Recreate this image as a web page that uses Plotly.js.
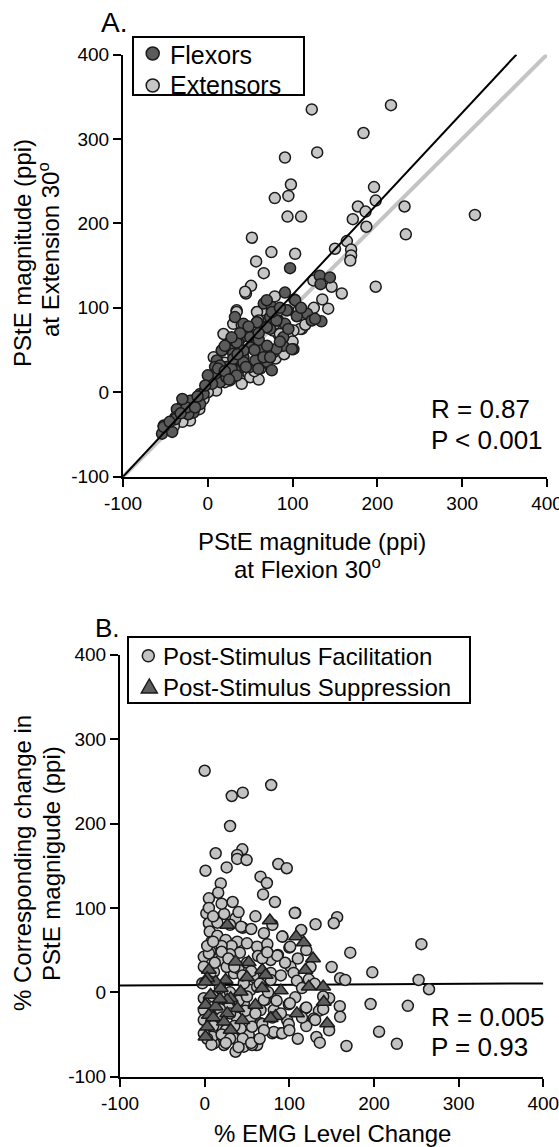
<!DOCTYPE html>
<html>
<head>
<meta charset="utf-8">
<script src="https://cdn.plot.ly/plotly-3.0.1.min.js"></script>
<style>html,body{margin:0;padding:0;background:#fff;}#chart{width:559px;height:1147px;}</style>
</head>
<body>
<div id="chart"></div>
<script>
// ---------- Panel A data ----------
const flexX = [97,132,144,133,91,102,66,75.5,94,117,122.6,134,32,58,71.5,83,91,73.5,46,40,50,26,36,58,64,77,89,101,70,75.5,16.5,30,42,50,40,10.6,8.6,22,32,12.5,22,14.5,-9,-19,-29,-17,-36.5,-38.5,-52,-54,-42,-23,-9,-5,69.5,73.5,67.5,81,99,3,14.5,30,64,42,58,75.5,93,103,126.5,69.5,63.7,50,42,34,16.5,14.5,28,42,30,8.6,22,34,56,65.6,81,89,73.5,59.7,-38.5,-52,-21,5,12,20,25,35,45,55,60,70,85,95,105,110,85,60,48,38,28,20,0,-3,-12,-25,-32,-45,-30,-15];
const flexY = [147,138,136,128,118,110,105,101,97,93,85,84,89,83,85,85,81,75,73,65,65,59,59,59,51,47,55,51,36,26,49.5,49.5,41.5,30,30,37.6,30,30,26,20,18,12,-2,-10,-14,-24,-20,-30,-39.5,-49,-47,-26,-14,-2,109,89,77,85,51,14,28,45.5,53,81,83,95,97,109,87,77,51,53,49.5,59,49.5,31.7,27.7,35.6,39.6,21.8,17.8,19.8,37.6,41.5,51.5,65,41.5,27.7,-32,-41,-10,10,28,25,15,45,30,50,62,55,60,75,90,100,100,70,78,70,65,55,20,8,-5,-18,-25,-35,-8,-18];
const extX = [122.6,216,183.6,129,91,98,79,95,94,110,196,198,177,186,171,187,232,315,233.5,52,75,103,57,66,150,164,169,169,198,51,124.5,146,158,168,45,79,64,84,107,142,111,34,83,93,18.5,62,26,38,50,6.6,-25,-21,-9,44,34,7,6.6,52,48,77,109,30,85,79,101,95,50,58,-2,10,20,28,40,60,15,25,40,55,65,80,90,100,115,125,135,60,40,20,-10,-30,-40,0,-5];
const extY = [335,340,307,284,278,246,230,232.5,208,208,243,227,220,214,205,196,220,210,187,183,166,164,155,141,170,179,169,162,125,126,132.5,125,117,156,117,113.5,97,97,97,99,75,97,69,69,69,28,14,20,20,8,-28,-33.5,-10,119,95,41.5,10,30,22,73,75,81,69,81,73,65,17.8,95,5,2,12,36,10,15,20,30,40,25,35,40,45,60,80,100,110,85,80,35,-20,-35,-40,0,-8];
const fitAX = [-100, 364];
const fitAY = [-100, 400];
const unityX = [-100, 400];
const unityY = [-100, 400];

// ---------- Panel B data ----------
const facX = [0,32,45,78.6,30,13,44.5,38.5,38.5,49.5,1,26,19,16,5,33,66,73.5,69,83,87,97,2,23,36.5,107,156.5,152.5,131,5,15,45,6,15,24.8,38.5,31.8,50,62,74,92,100,114,7,-1,5,19,41.6,63,74.7,86.5,101.4,78,105,109,160,166,172,198,256,252.7,265,196,240,206,227,167.5,147,159.6,160,147,135,129,132,136,119,99.4,97.5,99.4,90,80,66,54,78,72,62,46.3,36.5,22.8,11,34.6,52,42.5,66,46.3,54,56,15,9,62,78,34.6,46.3,78,68,-2.7,-1,11,22.8,-1,-1,-1,-1,101,91.6,106.5,123,66,107,100.6,70,81.7,56,120,130.5,81.7,68,91.6,85.7,74,43,8,20,30,12,26,40,50,18,30,5,15,28,38,48,25,12,58,8,20,35,3,10,20,28,35,45,55,65,75,85,90,95,110,120,125,115,130,140,150,10,18,30,40,50,60,70,80,90,100,110,120,10,20,30,45,55,3,8,25,65,40,115,140,5,10,30,55,60,70,80,40,20];
const facY = [262.5,232.6,236.5,245.6,197,164.7,169.4,162.7,158,156.8,144,148,129,118,111.3,107,137,129.5,116,107,152,147,93.6,92.8,87.7,94.3,89,81.8,80.6,81.8,82.5,76.5,72,67,62,60,54.9,58,54,57,66,53,73.8,48,42,46,38.3,47,43,46.2,44.2,30.3,23,23,13.7,16.6,14.6,47,23.7,57,14.6,3.6,-13.9,-16,-46.7,-61,-63.6,-7,-16.5,-29,-45,-22,-31,-53,-59.7,-19,-14.2,-33,-38,-48.6,-48.6,-36.7,-30.8,-5.2,-9,-62.4,-64.4,-70.4,-62.4,-60.4,-54.5,-50.6,-42.7,-21,-13,2.7,-40.8,-42.7,-52.6,6.6,14.6,22.5,10.7,38.3,40.3,10.7,30.3,24.4,-5.2,-7,-21,-32.8,-48.6,54,66,94,15.4,17.3,-6,-13,-9,-21,-62.4,-18,-32.8,-47,-37.6,-48.6,43.4,47.4,77.7,60,55,45,35,30,28,35,5,0,-10,-28,-18,-30,-22,-45,-15,18,-35,-50,-40,55,60,48,40,30,20,25,10,0,-10,20,35,40,50,30,5,10,-5,30,-5,-20,-25,-10,-5,-25,-45,-30,-25,-45,-55,-40,-40,-30,-55,-55,-60,-55,-62,-60,-55,-65,-30,-20,100,90,80,75,90,70,80,95,105];
const supX = [26.7,77,108,117,128,119,52,36.5,68,50,5,24.8,13,3,19,68,90,123,140,42.5,7,30.7,26.7,140.7,60,1,13,38.5,109,83.7,26.7,5,44.5,22.8,144.7,3,30.7,1,78,72,1,10,18];
const supY = [79.7,85,66,59,40,26.4,35.5,36.3,26.4,17.8,26.4,14.6,12.6,16.6,4.7,4.7,2,6.6,6.6,0.7,-3.2,-7,-9,-11.5,-15,-15,-17,-19,-25,-28.5,-25,-27,-33,-35,-37,-40.8,-44.7,-52.6,-30.8,20.5,12.6,-30,-8];
const fitBX = [-100, 400];
const fitBY = [8, 10.5];

const tickVals = [-100, 0, 100, 200, 300, 400];
const legendA = ['Flexors', 'Extensors'];
const legendB = ['Post-Stimulus Facilitation', 'Post-Stimulus Suppression'];

// ---------- colours / helpers for layout placement ----------
const W = 559, H = 1147;
const px = v => v / W;
const py = v => 1 - v / H;
const FONT = '"Liberation Sans", Arial, Helvetica, sans-serif';
const C_FLEX = '#5b5b5b', C_EXT = '#c6c6c6', C_FAC = '#c2c2c2', C_SUP = '#5e5e5e', C_EDGE = '#1a1a1a';

const mk = (fill, symbol, size) => ({
  color: fill, size: size, symbol: symbol,
  line: {color: C_EDGE, width: 1.5}
});

const traces = [
  {x: unityX, y: unityY, mode: 'lines', line: {color: '#c4c4c4', width: 4}, hoverinfo: 'skip', xaxis: 'x', yaxis: 'y'},
  {x: extX, y: extY, mode: 'markers', name: legendA[1], marker: mk(C_EXT, 'circle', 11), xaxis: 'x', yaxis: 'y'},
  {x: flexX, y: flexY, mode: 'markers', name: legendA[0], marker: mk(C_FLEX, 'circle', 11), xaxis: 'x', yaxis: 'y'},
  {x: fitAX, y: fitAY, mode: 'lines', line: {color: '#000', width: 2}, hoverinfo: 'skip', xaxis: 'x', yaxis: 'y'},

  {x: fitBX, y: fitBY, mode: 'lines', line: {color: '#000', width: 2}, hoverinfo: 'skip', xaxis: 'x2', yaxis: 'y2'},
  {x: facX, y: facY, mode: 'markers', name: legendB[0], marker: mk(C_FAC, 'circle', 11), xaxis: 'x2', yaxis: 'y2'},
  {x: supX, y: supY, mode: 'markers', name: legendB[1], marker: mk(C_SUP, 'triangle-up', 13), xaxis: 'x2', yaxis: 'y2'}
];

const axisBase = {
  range: [-100, 400], tickvals: tickVals, ticktext: tickVals.map(String),
  showgrid: false, zeroline: false, showline: true, linecolor: '#000', linewidth: 2,
  ticks: 'outside', ticklen: 8, tickwidth: 2, tickcolor: '#000', ticklabeloverflow: 'allow',
  tickfont: {family: FONT, size: 19, color: '#000'}, fixedrange: true
};

const ann = (text, x, y, size, opts) => Object.assign({
  text: text, x: px(x), y: py(y), xref: 'paper', yref: 'paper', showarrow: false,
  font: {family: FONT, size: size, color: '#000'}, xanchor: 'center', yanchor: 'middle'
}, opts || {});

// legend key shapes (pixel geometry converted to paper units)
const rectShape = (x0, y0, x1, y1) => ({type: 'rect', xref: 'paper', yref: 'paper',
  x0: px(x0), x1: px(x1), y0: py(y1), y1: py(y0), line: {color: '#000', width: 2}, fillcolor: '#fff', layer: 'above'});
const circleShape = (cx, cy, d, fill) => ({type: 'circle', xref: 'paper', yref: 'paper',
  x0: px(cx - d / 2), x1: px(cx + d / 2), y0: py(cy + d / 2), y1: py(cy - d / 2),
  line: {color: C_EDGE, width: 1.5}, fillcolor: fill, layer: 'above'});
const triShape = (cx, cy, w, h, fill) => ({type: 'path', xref: 'paper', yref: 'paper',
  path: 'M ' + px(cx - w / 2) + ',' + py(cy + h / 2) + ' L ' + px(cx + w / 2) + ',' + py(cy + h / 2) +
        ' L ' + px(cx) + ',' + py(cy - h / 2) + ' Z',
  line: {color: C_EDGE, width: 1.5}, fillcolor: fill, layer: 'above'});

const layout = {
  width: W, height: H, autosize: false,
  margin: {l: 0, r: 0, t: 0, b: 0, pad: 0},
  paper_bgcolor: '#fff', plot_bgcolor: '#fff',
  showlegend: false,
  xaxis: Object.assign({}, axisBase, {domain: [px(123), px(547)], anchor: 'y'}),
  yaxis: Object.assign({}, axisBase, {domain: [py(476.7), py(54.5)], anchor: 'x'}),
  xaxis2: Object.assign({}, axisBase, {domain: [px(120), px(543.3)], anchor: 'y2'}),
  yaxis2: Object.assign({}, axisBase, {domain: [py(1076.7), py(654.7)], anchor: 'x2'}),
  shapes: [
    rectShape(133, 37, 304, 95),
    circleShape(152.7, 53.5, 13, C_FLEX),
    circleShape(152.7, 85.5, 13, C_EXT),
    rectShape(128, 637, 470, 703),
    circleShape(148.3, 655.7, 12, C_FAC),
    triShape(149.3, 686, 16, 14, C_SUP)
  ],
  annotations: [
    ann(legendA[0], 168, 55, 25, {xanchor: 'left'}),
    ann(legendA[1], 168, 85, 25, {xanchor: 'left'}),
    ann(legendB[0], 161, 656, 24, {xanchor: 'left'}),
    ann(legendB[1], 161, 687, 24, {xanchor: 'left'}),
    ann('A.', 114, 22, 28),
    ann('B.', 107, 628, 26),
    ann('R = 0.87', 429, 409, 26, {xanchor: 'left'}),
    ann('P &lt; 0.001', 429, 440, 26, {xanchor: 'left'}),
    ann('R = 0.005', 429, 1017, 26, {xanchor: 'left'}),
    ann('P = 0.93', 429, 1047, 26, {xanchor: 'left'}),
    ann('PStE magnitude (ppi)', 312, 541, 24),
    ann('at Flexion 30<sup>o</sup>', 308, 568, 24),
    ann('PStE magnitude (ppi)', 22, 253, 24, {textangle: -90}),
    ann('at Extension 30<sup>o</sup>', 49, 250, 24, {textangle: -90}),
    ann('% Corresponding change in', 23, 863, 24, {textangle: -90}),
    ann('PStE magnigude (ppi)', 51, 864, 24, {textangle: -90}),
    ann('% EMG Level Change', 332, 1133, 24)
  ]
};

Plotly.newPlot('chart', traces, layout, {displayModeBar: false, staticPlot: true});
</script>
</body>
</html>
